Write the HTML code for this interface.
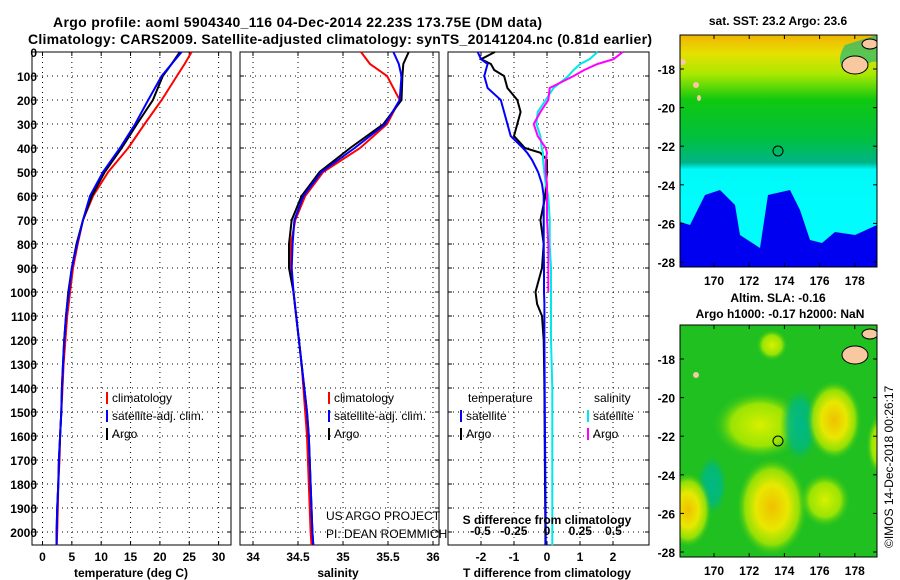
<!DOCTYPE html>
<html><head><meta charset="utf-8"><style>
html,body{margin:0;padding:0;background:#fff}
svg{display:block;font-family:"Liberation Sans",sans-serif}
</style></head><body>
<svg id="c" width="900" height="580" viewBox="0 0 900 580">
<defs>
<linearGradient id="sstg" x1="0" y1="0" x2="0" y2="1">
<stop offset="0" stop-color="#f0b400"/><stop offset="0.08" stop-color="#e6e000"/><stop offset="0.17" stop-color="#a8e800"/>
<stop offset="0.28" stop-color="#10c810"/><stop offset="0.45" stop-color="#00c040"/><stop offset="0.55" stop-color="#00b488"/>
<stop offset="0.58" stop-color="#00fafa"/><stop offset="1" stop-color="#00ffff"/>
</linearGradient>
<radialGradient id="gy"><stop offset="0" stop-color="#f0c000"/><stop offset="0.45" stop-color="#e8e800"/><stop offset="0.75" stop-color="#b0e800" stop-opacity="0.8"/><stop offset="1" stop-color="#20c020" stop-opacity="0"/></radialGradient>
<radialGradient id="gl"><stop offset="0" stop-color="#d8f000"/><stop offset="0.6" stop-color="#a8e800" stop-opacity="0.9"/><stop offset="1" stop-color="#20c020" stop-opacity="0"/></radialGradient>
<radialGradient id="gt"><stop offset="0" stop-color="#00b888"/><stop offset="0.6" stop-color="#00b880" stop-opacity="0.8"/><stop offset="1" stop-color="#20c020" stop-opacity="0"/></radialGradient>
<clipPath id="m1c"><rect x="680" y="35" width="197" height="232"/></clipPath>
<clipPath id="m2c"><rect x="680" y="325" width="197" height="232"/></clipPath>
</defs>
<text x="53" y="27" font-size="14" font-weight="bold" textLength="489">Argo profile: aoml 5904340_116 04-Dec-2014 22.23S 173.75E (DM data)</text>
<text x="28" y="44" font-size="14" font-weight="bold" textLength="624">Climatology: CARS2009. Satellite-adjusted climatology: synTS_20141204.nc (0.81d earlier)</text>
<g id="plots"></g>
<!-- SST map -->
<g clip-path="url(#m1c)">
<rect x="680" y="35" width="197" height="232" fill="url(#sstg)"/>
<path d="M680 262 L680 222 L690 225 L705 195 L720 190 L735 205 L740 235 L760 248 L768 195 L790 190 L800 210 L810 240 L822 243 L835 232 L855 235 L877 225 L877 267 L680 267Z" fill="#0000f0"/>
<path d="M860 70 Q870 60 877 62 L877 35 L845 45 Q835 60 845 72Z" fill="#00b488" opacity="0.6"/>
<ellipse cx="855" cy="65" rx="13" ry="9" fill="#f8c8a0" stroke="#000"/>
<ellipse cx="870" cy="44" rx="8" ry="5" fill="#f8c8a0" stroke="#000"/>
<ellipse cx="682" cy="62" rx="4" ry="3" fill="#f8c8a0"/>
<ellipse cx="696" cy="85" rx="3" ry="3" fill="#f8c8a0"/>
<ellipse cx="699" cy="98" rx="2" ry="3" fill="#f8c8a0"/>
</g>
<circle cx="778" cy="151" r="5" fill="none" stroke="#000"/>
<rect x="680" y="35" width="197" height="232" fill="none" stroke="#000"/>
<text x="778" y="25" font-size="12" font-weight="bold" text-anchor="middle">sat. SST: 23.2 Argo: 23.6</text>
<!-- SLA map -->
<g clip-path="url(#m2c)">
<rect x="680" y="325" width="197" height="232" fill="#20c020"/>
<ellipse cx="760" cy="425" rx="48" ry="35" fill="url(#gl)"/>
<ellipse cx="800" cy="425" rx="20" ry="40" fill="url(#gt)"/>
<ellipse cx="712" cy="485" rx="16" ry="32" fill="url(#gt)"/>
<ellipse cx="772" cy="507" rx="36" ry="50" fill="url(#gy)"/>
<ellipse cx="834" cy="420" rx="28" ry="40" fill="url(#gy)"/>
<ellipse cx="688" cy="510" rx="24" ry="38" fill="url(#gy)"/>
<ellipse cx="825" cy="500" rx="26" ry="28" fill="url(#gl)"/>
<ellipse cx="772" cy="345" rx="16" ry="16" fill="url(#gl)"/>
<ellipse cx="880" cy="445" rx="14" ry="32" fill="url(#gl)"/>
<ellipse cx="855" cy="355" rx="13" ry="9" fill="#f8c8a0" stroke="#000"/>
<ellipse cx="870" cy="334" rx="8" ry="5" fill="#f8c8a0" stroke="#000"/>
<ellipse cx="696" cy="375" rx="3" ry="3" fill="#f8c8a0"/>
</g>
<circle cx="778" cy="441" r="5" fill="none" stroke="#000"/>
<rect x="680" y="325" width="197" height="232" fill="none" stroke="#000"/>
<text x="778" y="302" font-size="12" font-weight="bold" text-anchor="middle">Altim. SLA: -0.16</text>
<text x="780" y="318" font-size="12" font-weight="bold" text-anchor="middle">Argo h1000: -0.17 h2000: NaN</text>
<text transform="translate(893,548) rotate(-90)" font-size="12">©IMOS 14-Dec-2018 00:26:17</text>
<g id="maps"></g>
</svg>
<script>
const NS="http://www.w3.org/2000/svg";
const svg=document.getElementById('c');
const G=document.getElementById('plots');
const M=document.getElementById('maps');
// ---- data ----
const depthTicks=[0,100,200,300,400,500,600,700,800,900,1000,1100,1200,1300,1400,1500,1600,1700,1800,1900,2000];
const tTicks=[0,5,10,15,20,25,30];
const sTicks=[34,34.5,35,35.5,36];
const sTickLabels=["34","34.5","35","35.5","36"];
const dtTicks=[-2,-1,0,1,2];
const dsTicks=[-0.5,-0.25,0,0.25,0.5];
const dsTickLabels=["-0.5","-0.25","0","0.25","0.5"];
const lat=[-18,-20,-22,-24,-26,-28];
const lon=[170,172,174,176,178];
const dep=[0,50,100,200,300,400,500,600,700,800,900,1000,1100,1200,1300,1400,1500,1600,1700,1800,1900,2000,2055];
const tClim=[25.4,24.2,22.9,20.3,17.4,14.6,11.2,8.6,6.9,6.0,5.2,4.7,4.2,3.9,3.6,3.4,3.2,3.0,2.9,2.7,2.6,2.5,2.4];
const tSat=[23.7,22.0,20.3,18.0,15.8,13.2,10.3,8.1,6.9,5.9,5.0,4.5,4.0,3.7,3.5,3.3,3.2,3.0,2.8,2.7,2.5,2.4,2.4];
const tArgo=[23.4,22.0,20.5,18.8,16.1,13.5,10.6,8.4,6.9,5.8,5.0,4.4,4.0,3.7,3.5,3.3,3.2,3.0,2.8,2.7,2.5,2.4,2.4];
const sClim=[35.2,35.3,35.49,35.63,35.49,35.19,34.78,34.58,34.47,34.42,34.42,34.45,34.48,34.51,34.54,34.56,34.58,34.6,34.61,34.62,34.63,34.64,34.65];
const sSat=[35.56,35.62,35.65,35.63,35.47,35.13,34.76,34.56,34.46,34.44,34.43,34.45,34.48,34.51,34.54,34.57,34.6,34.62,34.63,34.64,34.65,34.66,34.67];
const sArgo=[35.73,35.67,35.66,35.65,35.45,35.08,34.74,34.54,34.43,34.40,34.40,34.45,34.48,34.51,34.54,34.57,34.6,34.62,34.63,34.64,34.65,34.66,34.67];
const dDep=[0,30,50,75,100,150,200,250,300,350,400,420,450,500,550,600,700,800,900,1000,1050,1100,1200,1400,1600,1800,2000,2055];
const dtArgo=[-1.58,-2.0,-1.7,-1.6,-1.3,-1.2,-0.9,-0.8,-0.9,-1.0,-0.67,-0.2,0,0,-0.03,-0.05,-0.2,-0.1,-0.15,-0.35,-0.3,-0.15,-0.1,-0.08,-0.07,-0.06,-0.05,-0.05];
const dtSat=[-2.1,-2.0,-1.8,-1.85,-1.9,-1.8,-1.4,-1.3,-1.2,-1.1,-0.73,-0.6,-0.45,-0.27,-0.15,-0.1,-0.1,-0.1,-0.09,-0.09,-0.08,-0.08,-0.08,-0.07,-0.06,-0.05,-0.04,-0.04];
const dsSat=[0.38,0.32,0.25,0.2,0.16,0.05,-0.01,-0.07,-0.08,-0.05,-0.04,-0.03,-0.03,-0.02,-0.01,0.01,0.02,0.02,0.03,0.03,0.03,0.03,0.03,0.04,0.04,0.04,0.04,0.04];
const dsArgo=[0.57,0.5,0.38,0.28,0.2,0.02,0.01,-0.05,-0.1,-0.07,-0.01,0,-0.01,-0.01,0,0,0,0.01,0.01,0.01];
// ---- helpers ----
const yD=d=>52+d*0.24;
function el(tag,a,p){const e=document.createElementNS(NS,tag);for(const k in a)e.setAttribute(k,a[k]);(p||G).appendChild(e);return e;}
function txt(x,y,s,a,p){const e=el('text',Object.assign({x:x,y:y,'font-size':12,'font-weight':'bold'},a||{}),p);e.textContent=s;return e;}
const panels=[{x0:32,x1:231},{x0:240,x1:439},{x0:448,x1:649}];
const xT=v=>42.5+v*5.87, xS=v=>253+(v-34)*90, xDT=v=>547+v*33, xDS=v=>547+v*133;
function grid(p,xs,fx){
  xs.forEach(v=>{const l=el('line',{x1:fx(v),x2:fx(v),y1:52,y2:545,stroke:'#000','stroke-dasharray':'1 4'});
  
  });
  depthTicks.forEach(d=>{const l=el('line',{x1:p.x0,x2:p.x1,y1:yD(d),y2:yD(d),stroke:'#000','stroke-dasharray':'1 4'});
  
  
  el('line',{x1:p.x0,x2:p.x0+4,y1:yD(d),y2:yD(d),stroke:'#000'});el('line',{x1:p.x1-4,x2:p.x1,y1:yD(d),y2:yD(d),stroke:'#000'});});
  xs.forEach(v=>{el('line',{x1:fx(v),x2:fx(v),y1:52,y2:56,stroke:'#000'});el('line',{x1:fx(v),x2:fx(v),y1:541,y2:545,stroke:'#000'});});
  const r=el('rect',{x:p.x0,y:52,width:p.x1-p.x0,height:493,fill:'none',stroke:'#000'});
  
  
}
function line(fx,xs,ds,col,name){
  const pts=xs.map((v,i)=>fx(v).toFixed(1)+','+yD(ds[i]).toFixed(1)).join(' ');
  const l=el('polyline',{points:pts,fill:'none',stroke:col,'stroke-width':2});
  
  
}
// depth labels
depthTicks.forEach(d=>{const t=txt(37,yD(d)+5,String(d),{'text-anchor':'end'});

});
// panel 1
grid(panels[0],tTicks,xT);
tTicks.forEach(v=>{const t=txt(xT(v),561,String(v),{'text-anchor':'middle'});});
line(xT,tClim,dep,'#f00','temperature-climatology-line');
line(xT,tArgo,dep,'#000','temperature-argo-line');
line(xT,tSat,dep,'#00f','temperature-satellite-line');
let t1=txt(131,577,'temperature (deg C)',{'text-anchor':'middle'});
// panel 2
grid(panels[1],sTicks,xS);
sTicks.forEach((v,i)=>{const t=txt(xS(v),561,sTickLabels[i],{'text-anchor':'middle'});});
line(xS,sClim,dep,'#f00','salinity-climatology-line');
line(xS,sArgo,dep,'#000','salinity-argo-line');
line(xS,sSat,dep,'#00f','salinity-satellite-line');
let t2=txt(338,577,'salinity',{'text-anchor':'middle'});
// panel 3
grid(panels[2],dtTicks,xDT);
dtTicks.forEach(v=>{const t=txt(xDT(v),561,String(v),{'text-anchor':'middle'});});
line(xDT,dtArgo,dDep,'#000','t-difference-argo-line');
line(xDT,dtSat,dDep,'#00f','t-difference-satellite-line');
line(xDS,dsSat,dDep,'#00e8e8','s-difference-satellite-line');
line(xDS,dsArgo,dDep.slice(0,dsArgo.length),'#f0f','s-difference-argo-line');
dsTicks.forEach((v,i)=>{const t=txt(xDS(v),535,dsTickLabels[i],{'text-anchor':'middle'});});
let t3=txt(547,524,'S difference from climatology',{'text-anchor':'middle'});
let t4=txt(547,577,'T difference from climatology',{'text-anchor':'middle'});
// legends
function leg(x,y,col,label){el('rect',{x:x,y:y-10,width:2,height:12,fill:col});const t=txt(x+6,y,label,{'font-weight':'normal'});}
[[106,'#f00','climatology'],[106,'#00f','satellite-adj. clim.'],[106,'#000','Argo']].forEach((a,i)=>leg(a[0],402+i*18,a[1],a[2]));
[[328,'#f00','climatology'],[328,'#00f','satellite-adj. clim.'],[328,'#000','Argo']].forEach((a,i)=>leg(a[0],402+i*18,a[1],a[2]));
let lt=txt(468,402,'temperature',{'font-weight':'normal'});
let ls=txt(594,402,'salinity',{'font-weight':'normal'});
leg(460,420,'#00f','satellite');leg(460,438,'#000','Argo');
leg(587,420,'#00e8e8','satellite');leg(587,438,'#f0f','Argo');
let c1=txt(326,520,'US ARGO PROJECT',{'font-weight':'normal'});
let c2=txt(326,538,'PI: DEAN ROEMMICH',{'font-weight':'normal'});
// map axes
const xLon=v=>714+(v-170)*17.6, yLat=(v,top)=>top+34+(-18-v)*19.3;
[35,325].forEach(top=>{
  lat.forEach(v=>{const y=yLat(v,top);el('line',{x1:680,x2:684,y1:y,y2:y,stroke:'#000'},M);el('line',{x1:873,x2:877,y1:y,y2:y,stroke:'#000'},M);
    const t=txt(675,y+5,String(v),{'text-anchor':'end'},M);});
  lon.forEach(v=>{const x=xLon(v);el('line',{x1:x,x2:x,y1:top,y2:top+4,stroke:'#000'},M);el('line',{x1:x,x2:x,y1:top+228,y2:top+232,stroke:'#000'},M);
    const t=txt(x,top+250,String(v),{'text-anchor':'middle'},M);});
});
</script>
</body></html>
